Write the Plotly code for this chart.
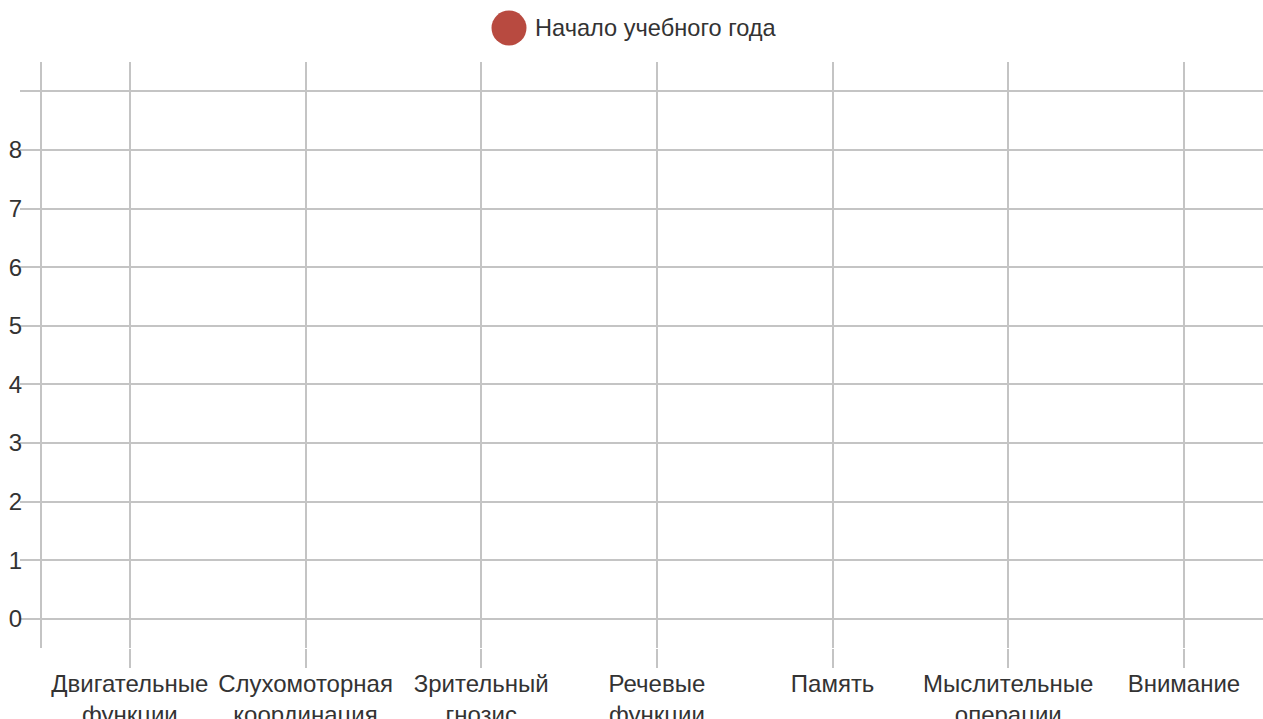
import plotly.graph_objects as go

categories = ["Двигательные<br>функции", "Слухомоторная<br>координация", "Зрительный<br>гнозис",
              "Речевые<br>функции", "Память", "Мыслительные<br>операции", "Внимание"]
series_name = "Начало учебного года"
series_values = [None, None, None, None, None, None, None]
y_tick_vals = [0, 1, 2, 3, 4, 5, 6, 7, 8, 9]
y_tick_text = ["0", "1", "2", "3", "4", "5", "6", "7", "8", ""]

marker_color = "#b84a40"
grid_color = "#c4c4c4"
text_color = "#333333"
font_family = "Liberation Sans, Arial, sans-serif"
font_size = 24

W, H = 1263, 719
plot_left, plot_right, plot_top, plot_bottom = 42, W, 62, 648
pw, ph = plot_right - plot_left, plot_bottom - plot_top

fig = go.Figure()
fig.add_trace(go.Scatter(
    x=categories, y=series_values, mode="markers", name=series_name,
    marker=dict(color=marker_color, size=14), showlegend=False,
))

# legend drawn manually (large circle marker)
cx, cy = 509, 28
fig.add_shape(type="circle", xref="paper", yref="paper",
              xsizemode="pixel", ysizemode="pixel",
              xanchor=(cx - plot_left) / pw, yanchor=1 + (plot_top - cy) / ph,
              x0=-17.5, x1=17.5, y0=-17.5, y1=17.5,
              fillcolor=marker_color, line=dict(width=0))
fig.add_annotation(text=series_name, xref="paper", yref="paper",
                   x=(533 - plot_left) / pw, y=1 + (plot_top - cy) / ph,
                   xanchor="left", yanchor="middle", showarrow=False,
                   font=dict(size=23.6, color=text_color, family=font_family))

fig.update_layout(
    width=W, height=H,
    margin=dict(l=plot_left, r=0, t=plot_top, b=H - plot_bottom, pad=0, autoexpand=False),
    paper_bgcolor="white", plot_bgcolor="white",
    font=dict(family=font_family, size=font_size, color=text_color),
    showlegend=False,
)
fig.update_xaxes(
    type="category", categoryorder="array", categoryarray=categories,
    range=[-0.5, 6.45], automargin=False,
    showgrid=True, gridcolor=grid_color, gridwidth=2,
    ticks="outside", ticklen=19, tickcolor=grid_color, tickwidth=2,
    ticklabelstandoff=-5,
    showline=False, zeroline=False,
    tickfont=dict(size=font_size, color=text_color),
)
fig.update_yaxes(
    range=[-0.5, 9.5], tickvals=y_tick_vals, ticktext=y_tick_text, automargin=False,
    showgrid=True, gridcolor=grid_color, gridwidth=2,
    ticks="outside", ticklen=20, tickcolor=grid_color, tickwidth=2,
    ticklabelstandoff=-7,
    showline=True, linecolor=grid_color, linewidth=2, zeroline=False,
    tickfont=dict(size=font_size, color=text_color),
)

fig.write_html("out.html", config={"displayModeBar": False},
               post_script="document.body.style.margin='0';document.documentElement.style.overflow='hidden';document.body.style.overflow='hidden';")
